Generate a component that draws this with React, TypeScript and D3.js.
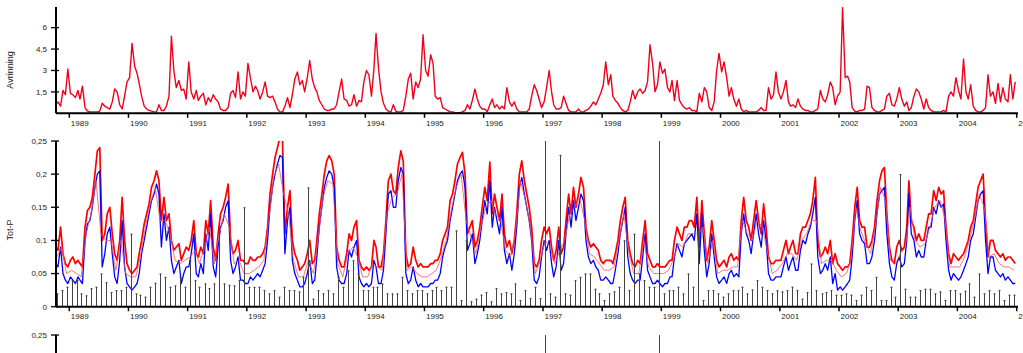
import * as d3 from "d3";

// runoff (Avrinning), two values per month (8th and 23rd), first value Oct 1988
const runoff = [
  0.6, 0.8, 0.5, 1.6, 1.3, 3.1,
  1.4, 1.3, 1.1, 1.6, 1.0, 1.9, 0.4, 0.15, 0.1, 0.1, 0.1, 0.1, 0.15, 0.7, 0.5, 0.4, 0.3, 0.8, 1.7, 1.5, 0.6, 0.3, 1.2, 2.2,
  2.5, 4.9, 3.3, 2.8, 2.1, 1.2, 0.5, 0.3, 0.2, 0.15, 0.1, 0.1, 0.6, 0.2, 0.2, 0.5, 1.2, 5.4, 3.0, 1.8, 2.3, 1.6, 1.7, 1.0,
  3.6, 1.5, 1.0, 1.6, 0.9, 1.2, 1.4, 0.6, 1.1, 0.8, 1.3, 1.0, 0.8, 0.3, 0.2, 0.2, 0.4, 1.4, 1.6, 1.1, 2.9, 1.0, 1.5, 1.2,
  3.5, 2.5, 1.5, 1.9, 1.6, 1.0, 1.5, 2.2, 1.2, 1.1, 1.2, 0.8, 0.3, 0.1, 0.1, 0.5, 1.1, 0.4, 1.3, 2.4, 2.9, 2.0, 2.3, 1.5,
  2.5, 3.7, 2.4, 1.8, 1.5, 0.9, 0.6, 0.3, 0.2, 0.2, 0.3, 0.3, 0.6, 1.5, 2.4, 1.0, 0.9, 0.5, 0.6, 1.3, 0.5, 0.9, 0.8, 2.2,
  3.0, 2.7, 1.2, 3.1, 5.6, 3.2, 1.5, 0.7, 0.3, 0.15, 0.1, 0.6, 0.15, 0.1, 0.1, 0.2, 1.2, 2.4, 2.8, 1.0, 2.2, 1.8, 2.4, 5.5,
  3.0, 2.6, 4.1, 3.5, 1.2, 1.0, 1.1, 0.4, 0.3, 0.2, 0.1, 0.1, 0.05, 0.05, 0.05, 0.1, 0.2, 0.6, 0.3, 0.9, 1.7, 1.0, 0.5, 0.3,
  0.3, 0.1, 0.6, 1.0, 0.4, 0.6, 0.3, 0.5, 0.3, 1.8, 0.8, 0.5, 0.8, 0.3, 0.1, 0.1, 0.1, 0.1, 0.3, 1.2, 2.0, 1.6, 1.0, 0.4,
  0.8, 1.8, 3.0, 1.5, 0.6, 0.3, 0.3, 0.4, 1.2, 0.7, 0.2, 0.1, 0.1, 0.1, 0.3, 0.1, 0.1, 0.2, 0.3, 0.5, 0.8, 0.6, 1.0, 1.4,
  2.0, 3.6, 2.0, 2.7, 1.2, 0.9, 0.7, 0.4, 0.2, 0.1, 0.2, 0.8, 1.6, 1.0, 1.5, 1.7, 1.4, 1.6, 2.2, 4.8, 3.5, 1.5, 2.0, 3.6,
  2.8, 3.1, 1.8, 1.5, 2.3, 0.9, 2.3, 0.9, 0.6, 0.4, 0.3, 0.4, 0.2, 0.2, 0.1, 1.4, 0.8, 1.8, 1.5, 0.4, 0.2, 0.8, 3.0, 4.2,
  2.9, 3.6, 2.5, 1.2, 1.8, 1.0, 0.5, 1.0, 0.3, 0.1, 0.2, 0.1, 0.1, 0.1, 0.1, 0.2, 0.4, 0.2, 0.2, 1.8, 1.0, 1.3, 2.9, 1.5,
  1.0, 1.5, 2.3, 0.8, 0.5, 0.6, 0.4, 1.0, 0.5, 0.3, 0.2, 0.2, 0.1, 0.1, 0.2, 0.3, 1.6, 1.0, 0.8, 1.3, 2.2, 1.8, 0.6, 1.2,
  1.5, 7.4, 2.5, 2.6, 2.2, 0.4, 0.15, 0.1, 0.2, 0.2, 0.3, 1.9, 1.8, 0.4, 0.2, 0.1, 0.1, 0.2, 0.3, 1.2, 1.4, 0.6, 0.5, 1.0,
  1.8, 1.0, 0.5, 0.8, 0.2, 0.4, 1.2, 1.7, 1.5, 1.0, 0.3, 1.0, 0.4, 0.2, 0.1, 0.1, 0.1, 0.1, 0.2, 0.1, 1.2, 1.5, 1.2, 2.5,
  1.6, 1.0, 3.8, 1.5, 1.0, 2.0, 0.5, 0.2, 0.1, 0.1, 0.2, 0.4, 2.7, 1.2, 1.5, 0.7, 2.1, 0.8, 1.8, 1.0, 0.8, 2.7, 1.0, 2.2,
];

// Tot-P, upper curve (red), same dates as runoff
const totPHigh = [
  0.09, 0.085, 0.12, 0.08, 0.065, 0.06,
  0.07, 0.075, 0.065, 0.07, 0.065, 0.06, 0.12, 0.145, 0.15, 0.165, 0.2, 0.235, 0.24, 0.1, 0.11, 0.14, 0.15, 0.11, 0.08, 0.07, 0.1, 0.165, 0.1, 0.065,
  0.055, 0.05, 0.055, 0.06, 0.08, 0.1, 0.125, 0.14, 0.155, 0.18, 0.19, 0.205, 0.19, 0.13, 0.165, 0.13, 0.14, 0.1, 0.085, 0.09, 0.095, 0.07, 0.08, 0.09,
  0.085, 0.1, 0.13, 0.08, 0.075, 0.09, 0.08, 0.13, 0.11, 0.16, 0.09, 0.07, 0.11, 0.14, 0.15, 0.165, 0.185, 0.1, 0.08, 0.085, 0.1, 0.07, 0.07, 0.065,
  0.065, 0.075, 0.07, 0.07, 0.075, 0.075, 0.08, 0.09, 0.12, 0.17, 0.2, 0.225, 0.24, 0.255, 0.25, 0.11, 0.15, 0.175, 0.1, 0.08, 0.07, 0.055, 0.06, 0.065,
  0.08, 0.1, 0.065, 0.07, 0.1, 0.14, 0.17, 0.2, 0.22, 0.228, 0.22, 0.2, 0.09, 0.07, 0.06, 0.06, 0.08, 0.11, 0.1, 0.12, 0.13, 0.07, 0.06, 0.055,
  0.06, 0.055, 0.06, 0.1, 0.09, 0.06, 0.06, 0.08, 0.13, 0.19, 0.2, 0.175, 0.17, 0.21, 0.235, 0.22, 0.08, 0.06, 0.065, 0.09, 0.07, 0.06, 0.065, 0.06,
  0.06, 0.06, 0.065, 0.065, 0.07, 0.07, 0.08, 0.1, 0.11, 0.12, 0.16, 0.17, 0.19, 0.215, 0.225, 0.233, 0.2, 0.11, 0.12, 0.13, 0.09, 0.1, 0.12, 0.15,
  0.18, 0.16, 0.218, 0.14, 0.17, 0.15, 0.13, 0.17, 0.11, 0.09, 0.1, 0.08, 0.1, 0.14, 0.2, 0.22, 0.19, 0.17, 0.15, 0.12, 0.065, 0.06, 0.07, 0.1,
  0.12, 0.11, 0.12, 0.09, 0.07, 0.085, 0.12, 0.08, 0.09, 0.13, 0.17, 0.14, 0.18, 0.15, 0.17, 0.195, 0.18, 0.12, 0.1, 0.09, 0.095, 0.09, 0.085, 0.07,
  0.065, 0.07, 0.07, 0.07, 0.065, 0.08, 0.1, 0.13, 0.15, 0.165, 0.1, 0.08, 0.065, 0.06, 0.07, 0.065, 0.1, 0.13, 0.08, 0.07, 0.06, 0.06, 0.065, 0.06,
  0.06, 0.06, 0.065, 0.07, 0.07, 0.1, 0.12, 0.11, 0.1, 0.12, 0.12, 0.13, 0.13, 0.12, 0.165, 0.09, 0.16, 0.11, 0.07, 0.09, 0.13, 0.1, 0.07, 0.06,
  0.065, 0.07, 0.06, 0.075, 0.08, 0.07, 0.075, 0.07, 0.13, 0.165, 0.13, 0.12, 0.1, 0.13, 0.16, 0.13, 0.11, 0.155, 0.12, 0.075, 0.065, 0.065, 0.07, 0.07,
  0.07, 0.085, 0.1, 0.08, 0.09, 0.1, 0.08, 0.08, 0.11, 0.12, 0.12, 0.13, 0.14, 0.16, 0.195, 0.1, 0.075, 0.08, 0.09, 0.08, 0.1, 0.065, 0.08, 0.065,
  0.06, 0.055, 0.06, 0.06, 0.065, 0.1, 0.15, 0.18, 0.13, 0.12, 0.12, 0.09, 0.09, 0.1, 0.12, 0.16, 0.19, 0.205, 0.21, 0.14, 0.09, 0.07, 0.065, 0.09,
  0.1, 0.085, 0.09, 0.12, 0.19, 0.13, 0.12, 0.1, 0.11, 0.1, 0.1, 0.12, 0.14, 0.14, 0.175, 0.16, 0.18, 0.17, 0.175, 0.12, 0.08, 0.065, 0.08, 0.075,
  0.07, 0.075, 0.08, 0.09, 0.1, 0.12, 0.13, 0.155, 0.18, 0.19, 0.2, 0.13, 0.075, 0.1, 0.1, 0.085, 0.08, 0.075, 0.08, 0.07, 0.075, 0.075, 0.07, 0.065,
];

// Tot-P, lower curve (blue), same dates
const totPLow = [
  0.065, 0.06, 0.09, 0.05, 0.04, 0.035,
  0.045, 0.04, 0.035, 0.045, 0.04, 0.035, 0.1, 0.125, 0.13, 0.15, 0.18, 0.2, 0.205, 0.06, 0.08, 0.11, 0.12, 0.08, 0.045, 0.035, 0.07, 0.13, 0.06, 0.035,
  0.03, 0.025, 0.03, 0.035, 0.05, 0.08, 0.1, 0.12, 0.14, 0.16, 0.17, 0.185, 0.17, 0.09, 0.14, 0.1, 0.12, 0.07, 0.05, 0.06, 0.07, 0.035, 0.05, 0.06,
  0.06, 0.08, 0.11, 0.05, 0.045, 0.065, 0.05, 0.11, 0.085, 0.14, 0.06, 0.045, 0.09, 0.12, 0.13, 0.15, 0.16, 0.07, 0.05, 0.06, 0.075, 0.04, 0.04, 0.035,
  0.035, 0.045, 0.04, 0.045, 0.05, 0.045, 0.055, 0.065, 0.1, 0.15, 0.18, 0.2, 0.215, 0.228, 0.225, 0.08, 0.13, 0.15, 0.07, 0.05, 0.04, 0.03, 0.03, 0.035,
  0.05, 0.07, 0.035, 0.04, 0.075, 0.12, 0.15, 0.18, 0.195, 0.205, 0.2, 0.18, 0.06, 0.04, 0.035, 0.035, 0.05, 0.085, 0.075, 0.09, 0.1, 0.045, 0.035, 0.03,
  0.035, 0.03, 0.035, 0.07, 0.06, 0.035, 0.035, 0.055, 0.11, 0.17, 0.175, 0.15, 0.15, 0.19, 0.21, 0.2, 0.05, 0.035, 0.04, 0.06, 0.04, 0.03, 0.035, 0.03,
  0.03, 0.03, 0.035, 0.035, 0.04, 0.04, 0.05, 0.075, 0.09, 0.1, 0.13, 0.15, 0.17, 0.19, 0.2, 0.205, 0.18, 0.085, 0.095, 0.11, 0.065, 0.08, 0.1, 0.13,
  0.16, 0.14, 0.19, 0.12, 0.15, 0.13, 0.11, 0.15, 0.085, 0.065, 0.08, 0.055, 0.08, 0.12, 0.18, 0.195, 0.17, 0.15, 0.13, 0.1, 0.04, 0.035, 0.045, 0.075,
  0.1, 0.085, 0.1, 0.065, 0.045, 0.06, 0.1, 0.055, 0.065, 0.11, 0.15, 0.12, 0.16, 0.13, 0.15, 0.17, 0.16, 0.1, 0.075, 0.065, 0.07, 0.06, 0.055, 0.04,
  0.04, 0.045, 0.04, 0.035, 0.035, 0.055, 0.08, 0.11, 0.13, 0.15, 0.075, 0.05, 0.04, 0.035, 0.04, 0.04, 0.075, 0.11, 0.055, 0.045, 0.035, 0.035, 0.04, 0.035,
  0.03, 0.035, 0.035, 0.045, 0.045, 0.075, 0.095, 0.085, 0.075, 0.095, 0.1, 0.105, 0.11, 0.1, 0.14, 0.065, 0.14, 0.085, 0.045, 0.065, 0.11, 0.075, 0.045, 0.035,
  0.04, 0.045, 0.035, 0.05, 0.055, 0.045, 0.05, 0.045, 0.11, 0.14, 0.11, 0.1, 0.08, 0.11, 0.14, 0.11, 0.09, 0.13, 0.1, 0.05, 0.04, 0.04, 0.045, 0.045,
  0.045, 0.06, 0.075, 0.055, 0.065, 0.075, 0.055, 0.055, 0.085, 0.1, 0.095, 0.11, 0.12, 0.14, 0.165, 0.075, 0.05, 0.055, 0.065, 0.055, 0.075, 0.035, 0.05, 0.025,
  0.03, 0.025, 0.03, 0.035, 0.04, 0.075, 0.13, 0.16, 0.11, 0.1, 0.095, 0.065, 0.065, 0.075, 0.1, 0.14, 0.17, 0.175, 0.18, 0.11, 0.065, 0.045, 0.04, 0.065,
  0.075, 0.06, 0.065, 0.1, 0.17, 0.11, 0.1, 0.075, 0.085, 0.075, 0.075, 0.1, 0.12, 0.12, 0.15, 0.14, 0.16, 0.15, 0.155, 0.1, 0.055, 0.04, 0.05, 0.045,
  0.04, 0.045, 0.055, 0.065, 0.075, 0.1, 0.11, 0.135, 0.16, 0.17, 0.175, 0.1, 0.05, 0.075, 0.075, 0.055, 0.05, 0.045, 0.05, 0.04, 0.045, 0.04, 0.035, 0.035,
];

// Tot-P, thin middle curve, one value per month (15th), first value Oct 1988
const totPMid = [
  0.075, 0.09, 0.05,
  0.055, 0.05, 0.045, 0.11, 0.14, 0.19, 0.11, 0.1, 0.1, 0.055, 0.1, 0.05,
  0.045, 0.045, 0.075, 0.12, 0.155, 0.18, 0.13, 0.13, 0.11, 0.07, 0.065, 0.07,
  0.075, 0.085, 0.065, 0.09, 0.12, 0.065, 0.11, 0.14, 0.12, 0.065, 0.07, 0.05,
  0.05, 0.055, 0.06, 0.07, 0.13, 0.195, 0.215, 0.17, 0.14, 0.07, 0.045, 0.045,
  0.07, 0.05, 0.1, 0.165, 0.19, 0.185, 0.065, 0.045, 0.08, 0.09, 0.075, 0.045,
  0.045, 0.065, 0.06, 0.055, 0.14, 0.165, 0.17, 0.2, 0.055, 0.06, 0.05, 0.045,
  0.045, 0.05, 0.055, 0.075, 0.1, 0.145, 0.18, 0.2, 0.13, 0.105, 0.08, 0.12,
  0.15, 0.16, 0.14, 0.13, 0.085, 0.075, 0.11, 0.19, 0.16, 0.12, 0.05, 0.07,
  0.1, 0.09, 0.065, 0.085, 0.1, 0.14, 0.15, 0.165, 0.13, 0.08, 0.075, 0.065,
  0.055, 0.055, 0.06, 0.1, 0.14, 0.08, 0.05, 0.05, 0.1, 0.06, 0.05, 0.05,
  0.05, 0.055, 0.07, 0.095, 0.09, 0.11, 0.11, 0.11, 0.12, 0.065, 0.1, 0.05,
  0.055, 0.055, 0.06, 0.06, 0.13, 0.11, 0.1, 0.13, 0.12, 0.085, 0.05, 0.055,
  0.065, 0.08, 0.08, 0.07, 0.1, 0.11, 0.13, 0.13, 0.065, 0.07, 0.07, 0.055,
  0.045, 0.05, 0.07, 0.15, 0.115, 0.095, 0.08, 0.125, 0.18, 0.16, 0.07, 0.065,
  0.08, 0.09, 0.15, 0.1, 0.09, 0.095, 0.12, 0.15, 0.16, 0.135, 0.06, 0.06,
  0.06, 0.075, 0.1, 0.13, 0.17, 0.15, 0.075, 0.08, 0.065, 0.06, 0.06, 0.055,
];

// measured Tot-P samples, one per month (15th), first Oct 1988
const samples = [
  0.02, 0.025, 0.03,
  0.04, 0.04, 0.02, 0.017, 0.028, 0.03, 0.05, 0.037, 0.022, 0.025, 0.025, 0.03,
  0.11, 0.02, 0.018, 0.015, 0.03, 0.036, 0.05, 0.045, 0.03, 0.032, 0.045, 0.03,
  0.07, 0.04, 0.03, 0.035, 0.028, 0.035, 0.12, 0.035, 0.033, 0.032, 0.04, 0.15,
  0.03, 0.03, 0.03, 0.025, 0.02, 0.025, 0.015, 0.03, 0.025, 0.025, 0.023, 0.045,
  0.18, 0.012, 0.025, 0.02, 0.025, 0.02, 0.045, 0.03, 0.055, 0.07, 0.05, 0.025,
  0.025, 0.03, 0.03, 0.035, 0.02, 0.02, 0.02, 0.045, 0.025, 0.02, 0.025, 0.025,
  0.02, 0.025, 0.03, 0.025, 0.03, 0.03, 0.115, 0.01, 0.1, 0.008, 0.012, 0.018,
  0.022, 0.008, 0.028, 0.02, 0.022, 0.02, 0.035, 0.01, 0.025, 0.013, 0.03, 0.013,
  0.3, 0.02, 0.015, 0.229, 0.02, 0.018, 0.04, 0.045, 0.05, 0.05, 0.027, 0.02,
  0.01, 0.02, 0.023, 0.03, 0.1, 0.025, 0.11, 0.05, 0.04, 0.03, 0.03, 0.3,
  0.02, 0.025, 0.025, 0.03, 0.02, 0.05, 0.03, 0.118, 0.01, 0.025, 0.025, 0.02,
  0.015, 0.02, 0.025, 0.025, 0.03, 0.02, 0.026, 0.04, 0.03, 0.025, 0.02, 0.025,
  0.023, 0.025, 0.03, 0.025, 0.012, 0.022, 0.065, 0.025, 0.02, 0.022, 0.025, 0.018,
  0.018, 0.02, 0.018, 0.01, 0.018, 0.03, 0.025, 0.045, 0.01, 0.01, 0.03, 0.015,
  0.2, 0.027, 0.015, 0.015, 0.025, 0.027, 0.027, 0.02, 0.023, 0.01, 0.025, 0.025,
  0.02, 0.024, 0.035, 0.015, 0.05, 0.02, 0.025, 0.02, 0.025, 0.01, 0.018, 0.018,
];

// third panel (cut off by the window): only its two high samples are visible
const lowerDates = ["1997-01-15", "1998-12-15"];
const lowerValues = [0.3, 0.3];

const years = d3.range(1989, 2006);
const runoffTicks = [1.5, 3, 4.5, 6];
const totPTicks = [0, 0.05, 0.1, 0.15, 0.2, 0.25];
const lowerTicks = [0.25];

const halfDate = (i: number) => {
  const k = i + 18;
  return new Date(1988 + Math.floor(k / 24), Math.floor((k % 24) / 2), k % 2 ? 23 : 8);
};
const monthDate = (i: number) => {
  const k = i + 9;
  return new Date(1988 + Math.floor(k / 12), k % 12, 15);
};
const parse = d3.timeParse("%Y-%m-%d");
const comma = (v: number) => String(v).replace(".", ",");

const x = d3.scaleTime()
  .domain([new Date(1989, 0, 1), new Date(2005, 0, 1)])
  .range([69.3, 1016.7]);
const x0 = 56;
const x1 = 1018;

const yRun = d3.scaleLinear().domain([0, 7.4]).range([113.3, 7.7]);
const yP = d3.scaleLinear().domain([0, 0.25]).range([306.7, 141]);
const yLow = d3.scaleLinear().domain([0, 0.25]).range([335 + 165.7, 335]);

const halfLine = (y: d3.ScaleLinear<number, number>) =>
  d3.line<number>().x((_, i) => x(halfDate(i))).y(d => y(d));
const monthLine = d3.line<number>().x((_, i) => x(monthDate(i))).y(d => yP(d));

const font = "'Liberation Sans', Arial, sans-serif";

function YAxis({ scale, ticks, top, bottom }: any) {
  return (
    <g>
      <line x1={x0} x2={x0} y1={top} y2={bottom} stroke="#000" strokeWidth={2} />
      {ticks.map((t: number) => (
        <g key={t}>
          <line x1={51} x2={59} y1={scale(t)} y2={scale(t)} stroke="#000" strokeWidth={1.3} />
          <text x={47} y={scale(t)} dy="0.35em" textAnchor="end" fontSize={8} fill="#222">{comma(t)}</text>
        </g>
      ))}
    </g>
  );
}

function XAxis({ y }: { y: number }) {
  return (
    <g>
      <line x1={x0} x2={x1} y1={y} y2={y} stroke="#000" strokeWidth={2} />
      {years.map(yr => {
        const px = x(new Date(yr, 0, 1));
        return (
          <g key={yr}>
            <line x1={px} x2={px} y1={y} y2={y + 4.5} stroke="#000" strokeWidth={1.5} />
            <text x={px + 1.5} y={y + 12.5} fontSize={8} fill="#222">{yr}</text>
          </g>
        );
      })}
    </g>
  );
}

function Spikes({ dates, values, scale }: any) {
  return (
    <g stroke="#444" strokeWidth={1}>
      {values.map((v: number, i: number) => {
        const px = Math.round(x(dates(i))) + 0.5;
        return (
          <g key={i}>
            <line x1={px} x2={px} y1={scale(0)} y2={scale(v)} />
            <line x1={px - 1} x2={px + 1} y1={scale(v) + 0.5} y2={scale(v) + 0.5} />
          </g>
        );
      })}
    </g>
  );
}

export default function App() {
  return (
    <svg width={1023} height={353} style={{ position: "absolute", left: 0, top: 0, background: "#fff" }} fontFamily={font}>
      <defs>
        <clipPath id="cTop"><rect x={x0} y={0} width={x1 - x0} height={113.3} /></clipPath>
        <clipPath id="cMid"><rect x={x0} y={141} width={x1 - x0} height={165.7} /></clipPath>
        <clipPath id="cLow"><rect x={x0} y={335} width={x1 - x0} height={30} /></clipPath>
      </defs>

      {/* Avrinning */}
      <g clipPath="url(#cTop)">
        <path d={halfLine(yRun)(runoff) || ""} fill="none" stroke="#f0001c" strokeWidth={1.4} strokeLinejoin="round" />
      </g>
      <YAxis scale={yRun} ticks={runoffTicks} top={7} bottom={113.3} />
      <XAxis y={113.3} />
      <text transform="translate(13,70) rotate(-90)" textAnchor="middle" fontSize={9} fill="#222">Avrinning</text>

      {/* Tot-P */}
      <g clipPath="url(#cMid)">
        <path d={halfLine(yP)(totPHigh) || ""} fill="none" stroke="#ff0000" strokeWidth={1.7} strokeLinejoin="round" />
        <path d={halfLine(yP)(totPLow) || ""} fill="none" stroke="#0000ff" strokeWidth={1.3} strokeLinejoin="round" />
        <path d={monthLine(totPMid) || ""} fill="none" stroke="#ff5050" strokeWidth={0.8} strokeLinejoin="round" />
        <Spikes dates={monthDate} values={samples} scale={yP} />
      </g>
      <YAxis scale={yP} ticks={totPTicks} top={141} bottom={306.7} />
      <XAxis y={306.7} />
      <text transform="translate(13,230) rotate(-90)" textAnchor="middle" fontSize={9} fill="#222">Tot-P</text>

      {/* lower panel, cut off */}
      <g clipPath="url(#cLow)">
        <Spikes dates={(i: number) => parse(lowerDates[i])} values={lowerValues} scale={yLow} />
      </g>
      <YAxis scale={yLow} ticks={lowerTicks} top={335} bottom={360} />
    </svg>
  );
}
